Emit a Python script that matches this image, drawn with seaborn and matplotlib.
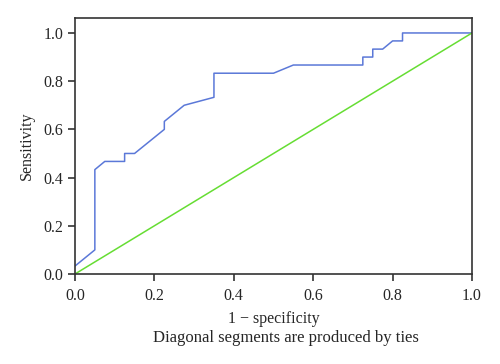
import matplotlib
matplotlib.use("Agg")
import matplotlib.pyplot as plt
import seaborn as sns
import pandas as pd

# ROC curve points (1 - specificity, sensitivity)
fpr = [0.0, 0.05, 0.05, 0.075, 0.125, 0.125, 0.15, 0.225, 0.225, 0.275,
       0.35, 0.35, 0.5, 0.55, 0.725, 0.725, 0.75, 0.75, 0.775, 0.8,
       0.825, 0.825, 1.0]
tpr = [0.033, 0.1, 0.433, 0.467, 0.467, 0.5, 0.5, 0.6, 0.633, 0.7,
       0.733, 0.833, 0.833, 0.867, 0.867, 0.9, 0.9, 0.933, 0.933, 0.967,
       0.967, 1.0, 1.0]
ref_x = [0.0, 1.0]
ref_y = [0.0, 1.0]
ticks = [0.0, 0.2, 0.4, 0.6, 0.8, 1.0]

sns.set_style("ticks")
plt.rcParams['font.family'] = ['Liberation Serif', 'DejaVu Serif']

roc = pd.DataFrame({"fpr": fpr, "tpr": tpr})
ref = pd.DataFrame({"x": ref_x, "y": ref_y})

fig = plt.figure(figsize=(5, 3.64), dpi=100)
ax = fig.add_axes([0.15, 0.2473, 0.794, 0.7032])

sns.lineplot(data=roc, x="fpr", y="tpr", sort=False, estimator=None,
             color="#5b78d8", linewidth=1.1, ax=ax)
sns.lineplot(data=ref, x="x", y="y", sort=False, estimator=None,
             color="#66dd33", linewidth=1.1, ax=ax)

ax.set_xlim(0, 1)
ax.set_ylim(0, 1.062)
ax.set_xticks(ticks)
ax.set_yticks(ticks)
ax.set_xticklabels([f"{t:.1f}" for t in ticks])
ax.set_yticklabels([f"{t:.1f}" for t in ticks])
ax.tick_params(axis="both", labelsize=11.5, length=5, width=1.2,
               color="#333333", direction="out")
ax.tick_params(axis="x", pad=5)
for s in ax.spines.values():
    s.set_color("#333333")
    s.set_linewidth(1.2)

ax.set_xlabel("1 \u2212 specificity", fontsize=11.5, labelpad=5)
ax.set_ylabel("Sensitivity", fontsize=11.5, labelpad=6)
fig.text(0.571, 0.072, "Diagonal segments are produced by ties",
         ha="center", va="center", fontsize=12)

fig.savefig("out.png", dpi=100)
